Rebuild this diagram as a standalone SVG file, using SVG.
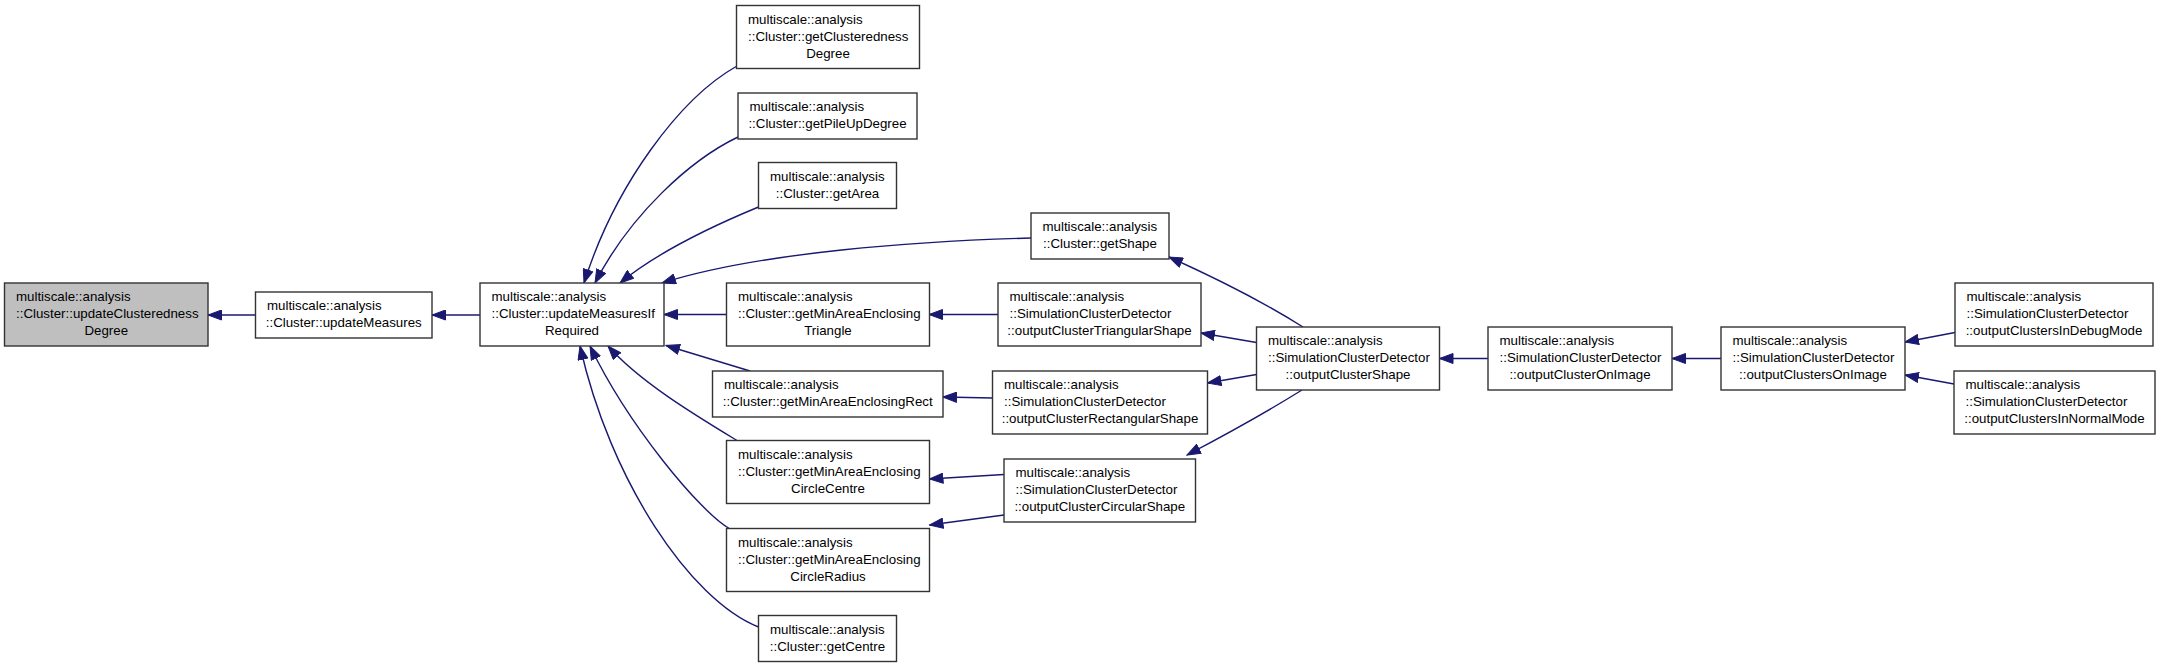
<svg xmlns="http://www.w3.org/2000/svg" width="2157" height="667" viewBox="0 0 2157 667">
<style>
.bg{fill:#ffffff}
.n rect{fill:#ffffff;stroke:#333333;stroke-width:1.4}
.n.hl rect{fill:#bfbfbf}
.n text{font-family:"Liberation Sans",Arial,Helvetica,sans-serif;font-size:13.3px;fill:#000000}
.n text.c{text-anchor:middle}
.e path{fill:none;stroke:#191970;stroke-width:1.4;marker-end:url(#ah)}
</style>
<defs>
<marker id="ah" markerUnits="userSpaceOnUse" markerWidth="15" markerHeight="11" refX="14" refY="5.5" orient="auto">
<polygon points="0.5,0.5 14,5.5 0.5,10.5" fill="#191970" stroke="#191970" stroke-width="1"/>
</marker>
</defs>
<rect class="bg" x="0" y="0" width="2157" height="667"/>
<g id="connectors" class="e">
<path d="M255.4,315 L208,315"/>
<path d="M480,315 L432,315"/>
<path d="M737,66 C680,98 615,185 584,283"/>
<path d="M738,137 C690,160 630,215 595,283"/>
<path d="M758.5,207 C715,225 660,250 620,283"/>
<path d="M1031,238 C920,241 760,252 662,283"/>
<path d="M726.5,314.5 L664,314.5"/>
<path d="M750,371 L666,345.5"/>
<path d="M737,440.5 C695,415 640,382 608,346"/>
<path d="M730,529 C700,512 628,425 590,346"/>
<path d="M758.5,627 C690,600 610,480 580,346"/>
<path d="M998,314.5 L929,314.5"/>
<path d="M992.5,398 L943,397"/>
<path d="M1004,474.5 L929.5,479"/>
<path d="M1004,515 L929.5,525"/>
<path d="M1303,327 C1265,303 1220,280 1169,257"/>
<path d="M1256.5,342.5 L1201,333"/>
<path d="M1256.5,374.5 L1207.5,383"/>
<path d="M1302,390 C1265,413 1225,435 1187,455"/>
<path d="M1488,358.5 L1439.5,358.5"/>
<path d="M1721,358.5 L1672,358.5"/>
<path d="M1955,332.5 L1905,342"/>
<path d="M1954,384 L1905,375"/>
</g>
<g id="updateClusterednessDegree" class="n hl">
<rect x="4.5" y="283" width="203.5" height="63"/>
<text x="16" y="301">multiscale::analysis</text>
<text x="16" y="318">::Cluster::updateClusteredness</text>
<text class="c" x="106.25" y="335">Degree</text>
</g>
<g id="updateMeasures" class="n">
<rect x="255.5" y="292" width="176.5" height="46"/>
<text x="267" y="310">multiscale::analysis</text>
<text class="c" x="343.75" y="327">::Cluster::updateMeasures</text>
</g>
<g id="updateMeasuresIfRequired" class="n">
<rect x="480" y="283" width="184" height="63"/>
<text x="491.5" y="301">multiscale::analysis</text>
<text x="491.5" y="318">::Cluster::updateMeasuresIf</text>
<text class="c" x="572" y="335">Required</text>
</g>
<g id="getClusterednessDegree" class="n">
<rect x="736.5" y="5.5" width="183" height="63"/>
<text x="748" y="23.5">multiscale::analysis</text>
<text x="748" y="40.5">::Cluster::getClusteredness</text>
<text class="c" x="828" y="57.5">Degree</text>
</g>
<g id="getPileUpDegree" class="n">
<rect x="738" y="93" width="179" height="46"/>
<text x="749.5" y="111">multiscale::analysis</text>
<text class="c" x="827.5" y="128">::Cluster::getPileUpDegree</text>
</g>
<g id="getArea" class="n">
<rect x="758.5" y="162.5" width="138" height="46"/>
<text x="770" y="180.5">multiscale::analysis</text>
<text class="c" x="827.5" y="197.5">::Cluster::getArea</text>
</g>
<g id="getShape" class="n">
<rect x="1031" y="213" width="138" height="46"/>
<text x="1042.5" y="231">multiscale::analysis</text>
<text class="c" x="1100" y="248">::Cluster::getShape</text>
</g>
<g id="getMinAreaEnclosingTriangle" class="n">
<rect x="726.5" y="283" width="203" height="63"/>
<text x="738" y="301">multiscale::analysis</text>
<text x="738" y="318">::Cluster::getMinAreaEnclosing</text>
<text class="c" x="828" y="335">Triangle</text>
</g>
<g id="getMinAreaEnclosingRect" class="n">
<rect x="712.5" y="371" width="230.5" height="46"/>
<text x="724" y="389">multiscale::analysis</text>
<text class="c" x="827.75" y="406">::Cluster::getMinAreaEnclosingRect</text>
</g>
<g id="getMinAreaEnclosingCircleCentre" class="n">
<rect x="726.5" y="440.5" width="203" height="63"/>
<text x="738" y="458.5">multiscale::analysis</text>
<text x="738" y="475.5">::Cluster::getMinAreaEnclosing</text>
<text class="c" x="828" y="492.5">CircleCentre</text>
</g>
<g id="getMinAreaEnclosingCircleRadius" class="n">
<rect x="726.5" y="528.5" width="203" height="63"/>
<text x="738" y="546.5">multiscale::analysis</text>
<text x="738" y="563.5">::Cluster::getMinAreaEnclosing</text>
<text class="c" x="828" y="580.5">CircleRadius</text>
</g>
<g id="getCentre" class="n">
<rect x="758.5" y="615.5" width="138" height="46"/>
<text x="770" y="633.5">multiscale::analysis</text>
<text class="c" x="827.5" y="650.5">::Cluster::getCentre</text>
</g>
<g id="outputClusterTriangularShape" class="n">
<rect x="998" y="283" width="203" height="63"/>
<text x="1009.5" y="301">multiscale::analysis</text>
<text x="1009.5" y="318">::SimulationClusterDetector</text>
<text class="c" x="1099.5" y="335">::outputClusterTriangularShape</text>
</g>
<g id="outputClusterRectangularShape" class="n">
<rect x="992.5" y="371" width="215" height="63"/>
<text x="1004" y="389">multiscale::analysis</text>
<text x="1004" y="406">::SimulationClusterDetector</text>
<text class="c" x="1100" y="423">::outputClusterRectangularShape</text>
</g>
<g id="outputClusterCircularShape" class="n">
<rect x="1004" y="459" width="191.5" height="63"/>
<text x="1015.5" y="477">multiscale::analysis</text>
<text x="1015.5" y="494">::SimulationClusterDetector</text>
<text class="c" x="1099.75" y="511">::outputClusterCircularShape</text>
</g>
<g id="outputClusterShape" class="n">
<rect x="1256.5" y="327" width="183" height="63"/>
<text x="1268" y="345">multiscale::analysis</text>
<text x="1268" y="362">::SimulationClusterDetector</text>
<text class="c" x="1348" y="379">::outputClusterShape</text>
</g>
<g id="outputClusterOnImage" class="n">
<rect x="1488" y="327" width="184" height="63"/>
<text x="1499.5" y="345">multiscale::analysis</text>
<text x="1499.5" y="362">::SimulationClusterDetector</text>
<text class="c" x="1580" y="379">::outputClusterOnImage</text>
</g>
<g id="outputClustersOnImage" class="n">
<rect x="1721" y="327" width="184" height="63"/>
<text x="1732.5" y="345">multiscale::analysis</text>
<text x="1732.5" y="362">::SimulationClusterDetector</text>
<text class="c" x="1813" y="379">::outputClustersOnImage</text>
</g>
<g id="outputClustersInDebugMode" class="n">
<rect x="1955" y="283" width="198" height="63"/>
<text x="1966.5" y="301">multiscale::analysis</text>
<text x="1966.5" y="318">::SimulationClusterDetector</text>
<text class="c" x="2054" y="335">::outputClustersInDebugMode</text>
</g>
<g id="outputClustersInNormalMode" class="n">
<rect x="1954" y="371" width="201" height="63"/>
<text x="1965.5" y="389">multiscale::analysis</text>
<text x="1965.5" y="406">::SimulationClusterDetector</text>
<text class="c" x="2054.5" y="423">::outputClustersInNormalMode</text>
</g>
</svg>
